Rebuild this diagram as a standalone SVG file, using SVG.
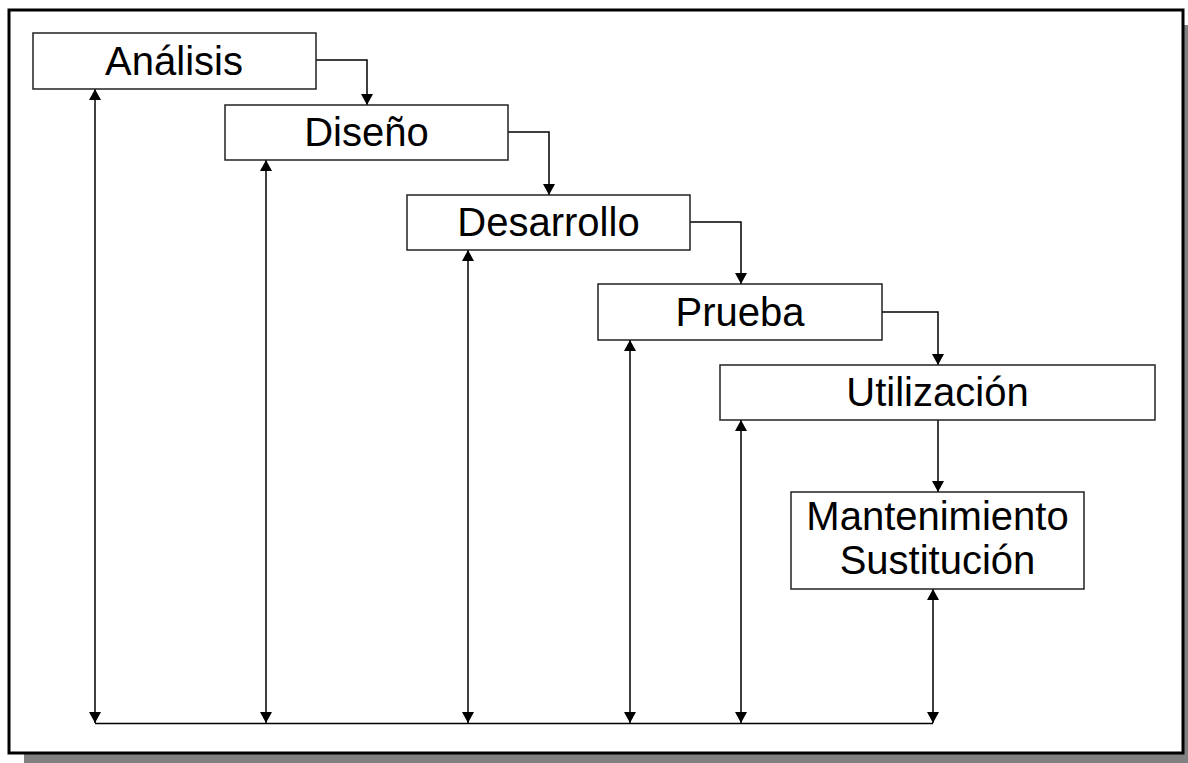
<svg xmlns="http://www.w3.org/2000/svg" width="1188" height="763" viewBox="0 0 1188 763">
  <style>
    .box { fill: #ffffff; stroke: #222222; stroke-width: 1.5; }
    .lbl { font-family: "Liberation Sans", Arial, sans-serif; font-size: 40px; fill: #000000; text-anchor: middle; }
    .wire { fill: none; stroke: #000000; stroke-width: 1.5; }
  </style>
  <defs>
    <marker id="head" viewBox="0 0 11 12" refX="11" refY="6" markerWidth="11" markerHeight="12" markerUnits="userSpaceOnUse" orient="auto-start-reverse">
      <path d="M0,0 L11,6 L0,12 z" fill="#000000"/>
    </marker>
  </defs>

  <!-- page frame with drop shadow -->
  <g id="frame">
    <rect x="24" y="25" width="1180" height="750" fill="#808080"/>
    <rect x="9" y="10" width="1174" height="743" fill="#ffffff" stroke="#000000" stroke-width="3"/>
  </g>

  <!-- connectors -->
  <g id="connectors">
    <!-- stage to stage -->
    <polyline class="wire" points="316,60 367,60 367,105" marker-end="url(#head)"/>
    <polyline class="wire" points="508,132 549,132 549,195" marker-end="url(#head)"/>
    <polyline class="wire" points="690,222 741,222 741,284" marker-end="url(#head)"/>
    <polyline class="wire" points="882,312 938,312 938,365" marker-end="url(#head)"/>
    <line class="wire" x1="938" y1="420" x2="938" y2="492" marker-end="url(#head)"/>
    <!-- feedback bus -->
    <line class="wire" x1="95" y1="723.5" x2="933" y2="723.5"/>
    <line class="wire" x1="95" y1="723" x2="95" y2="89" marker-start="url(#head)" marker-end="url(#head)"/>
    <line class="wire" x1="266" y1="723" x2="266" y2="160" marker-start="url(#head)" marker-end="url(#head)"/>
    <line class="wire" x1="468" y1="723" x2="468" y2="250" marker-start="url(#head)" marker-end="url(#head)"/>
    <line class="wire" x1="630" y1="723" x2="630" y2="340" marker-start="url(#head)" marker-end="url(#head)"/>
    <line class="wire" x1="741" y1="723" x2="741" y2="420" marker-start="url(#head)" marker-end="url(#head)"/>
    <line class="wire" x1="933" y1="723" x2="933" y2="589" marker-start="url(#head)" marker-end="url(#head)"/>
  </g>

  <g id="analisis">
    <rect class="box" x="33" y="33" width="283" height="56"/>
    <text class="lbl" x="174" y="74.5">Análisis</text>
  </g>
  <g id="diseno">
    <rect class="box" x="225" y="105" width="283" height="55"/>
    <text class="lbl" x="366.5" y="146">Diseño</text>
  </g>
  <g id="desarrollo">
    <rect class="box" x="407" y="195" width="283" height="55"/>
    <text class="lbl" x="548.5" y="236">Desarrollo</text>
  </g>
  <g id="prueba">
    <rect class="box" x="598" y="284" width="284" height="56"/>
    <text class="lbl" x="740" y="325.5">Prueba</text>
  </g>
  <g id="utilizacion">
    <rect class="box" x="720" y="365" width="435" height="55"/>
    <text class="lbl" x="937.5" y="406">Utilización</text>
  </g>
  <g id="mantenimiento">
    <rect class="box" x="791" y="492" width="293" height="97"/>
    <text class="lbl" x="937.5" y="530">Mantenimiento</text>
    <text class="lbl" x="937.5" y="574">Sustitución</text>
  </g>
</svg>
